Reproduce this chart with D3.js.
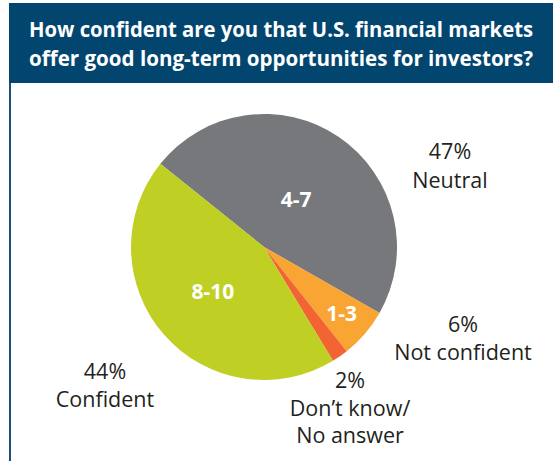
<!DOCTYPE html>
<html>
<head>
<meta charset="utf-8">
<script src="https://cdn.jsdelivr.net/npm/d3@7"></script>
<style>
  body { margin: 0; background: #fff; }
  svg { display: block; font-family: "Open Sans", sans-serif; }
</style>
</head>
<body>
<div id="chart"></div>
<script>
// survey answers, in drawing order (clockwise from the upper-left edge)
const scores = ['4-7', '1-3', 'dk', '8-10'];
const shares = [47, 6, 2, 44];
const sliceLabels = ['4-7', '1-3', '', '8-10'];
const outerPct = ['47%', '6%', '2%', '44%'];
const outerNames = [['Neutral'], ['Not confident'], ['Don\u2019t know/', 'No answer'], ['Confident']];
const sliceColors = ['#77787b', '#f9a533', '#f26532', '#c0cf23'];
const titleLines = [
  'How confident are you that U.S. financial markets',
  'offer good long-term opportunities for investors?'
];

const width = 553, height = 461;
const cx = 264, cy = 247, radius = 133;

const svg = d3.select('#chart').append('svg')
  .attr('width', width)
  .attr('height', height);

// header band
svg.append('rect')
  .attr('x', 9).attr('y', 3)
  .attr('width', width - 9).attr('height', 80)
  .attr('fill', '#02466f');

svg.append('rect')
  .attr('x', 9).attr('y', 83)
  .attr('width', 2).attr('height', height - 83)
  .attr('fill', '#1b4f7c');

svg.append('g')
  .selectAll('text')
  .data(titleLines)
  .join('text')
  .attr('x', 281)
  .attr('y', (d, i) => 37 + i * 29)
  .attr('text-anchor', 'middle')
  .attr('fill', '#fff')
  .attr('font-weight', 700)
  .attr('font-size', 21)
  .attr('textLength', 504)
  .attr('lengthAdjust', 'spacingAndGlyphs')
  .text(d => d);

const pie = d3.pie()
  .sort(null)
  .startAngle(-51.2 * Math.PI / 180)
  .endAngle((360 - 51.2) * Math.PI / 180)
  .value(d => d);

const arcs = pie(shares);
const arc = d3.arc().innerRadius(0).outerRadius(radius);

const g = svg.append('g').attr('transform', `translate(${cx},${cy})`);

g.selectAll('path')
  .data(arcs)
  .join('path')
  .attr('d', arc)
  .attr('fill', (d, i) => sliceColors[i]);

// labels inside slices, placed at a fraction of the radius on the mid angle
const innerR = [0.43, 0.77, 0, 0.51];
g.selectAll('text.inner')
  .data(arcs.filter((d, i) => sliceLabels[i]))
  .join('text')
  .attr('class', 'inner')
  .attr('transform', d => {
    const c = d3.arc().innerRadius(0).outerRadius(radius * innerR[d.index] * 2).centroid(d);
    return `translate(${c[0]},${c[1]})`;
  })
  .attr('text-anchor', 'middle')
  .attr('dy', '0.35em')
  .attr('fill', '#fff')
  .attr('font-weight', 700)
  .attr('font-size', 21)
  .text(d => sliceLabels[d.index]);

// outside labels
const outerPos = [[450, 159], [463, 332], [350, 388], [105, 379]];
const lineGap = 27.5;
const lab = svg.append('g').attr('fill', '#231f20').attr('font-size', 21.5);
outerPct.forEach((p, i) => {
  [p, ...outerNames[i]].forEach((line, j) => {
    lab.append('text')
      .attr('x', outerPos[i][0])
      .attr('y', outerPos[i][1] + j * (i === 0 ? 29 : lineGap))
      .attr('text-anchor', 'middle')
      .text(line);
  });
});
</script>
</body>
</html>
